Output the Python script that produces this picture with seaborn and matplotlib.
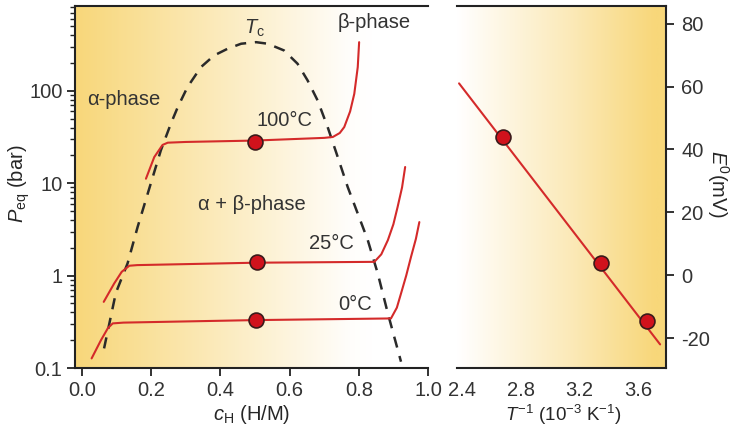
import numpy as np
import pandas as pd
import matplotlib
matplotlib.use("Agg")
import matplotlib.pyplot as plt
from matplotlib.colors import LinearSegmentedColormap
from matplotlib.ticker import LogLocator, NullFormatter, FixedLocator, FixedFormatter
import seaborn as sns

sns.set_theme(style="ticks")
plt.rcParams['font.family'] = ['Liberation Sans', 'DejaVu Sans']
plt.rcParams['mathtext.fontset'] = 'custom'
plt.rcParams['mathtext.rm'] = 'Liberation Sans'
plt.rcParams['mathtext.it'] = 'Liberation Sans:italic'
plt.rcParams['text.color'] = '#333333'
plt.rcParams['xtick.color'] = '#222222'
plt.rcParams['ytick.color'] = '#222222'
plt.rcParams['xtick.labelcolor'] = '#333333'
plt.rcParams['ytick.labelcolor'] = '#333333'

# ---------------- data ----------------
# coexistence dome (dashed)
dome_x = [0.064, 0.098, 0.132, 0.161, 0.19, 0.228, 0.257, 0.277, 0.305, 0.344, 0.382,
          0.421, 0.46, 0.503, 0.537, 0.584, 0.623, 0.652, 0.681, 0.71, 0.739,
          0.768, 0.797, 0.826, 0.855, 0.884, 0.922]
dome_p = [0.163, 0.65, 1.36, 3.37, 7.7, 22.7, 44.2, 66.8, 110, 181, 242,
          286, 324, 337, 324, 274, 197, 130, 78.9, 40.6, 19.3,
          9.1, 4.7, 2.42, 1.05, 0.39, 0.117]

# isotherms
iso100_x = [0.185, 0.209, 0.233, 0.248, 0.30, 0.50, 0.70, 0.725, 0.745, 0.758, 0.775, 0.787, 0.797, 0.801]
iso100_p = [11.2, 19.2, 26.0, 27.5, 28.0, 29.0, 31.0, 31.7, 35.0, 40.6, 60.0, 93.0, 181, 337]
iso25_x = [0.063, 0.093, 0.115, 0.137, 0.16, 0.50, 0.845, 0.865, 0.884, 0.90, 0.912, 0.925, 0.934]
iso25_p = [0.52, 0.82, 1.1, 1.28, 1.30, 1.38, 1.41, 1.7, 2.42, 3.6, 5.5, 9.0, 15.0]
iso0_x = [0.028, 0.055, 0.075, 0.089, 0.12, 0.50, 0.893, 0.91, 0.922, 0.937, 0.951, 0.965, 0.975]
iso0_p = [0.127, 0.20, 0.27, 0.304, 0.31, 0.33, 0.344, 0.45, 0.64, 1.0, 1.6, 2.5, 3.8]

# plateau points
plat_x = [0.50, 0.505, 0.504]
plat_p = [28.0, 1.41, 0.33]

# right panel: E0 vs 1/T
invT = [2.68, 3.35, 3.66]
E0 = [44.0, 4.0, -14.5]
fit_x = [2.38, 3.75]
fit_E = [61.0, -22.0]

left_xticks = [0.0, 0.2, 0.4, 0.6, 0.8, 1.0]
left_yticks = [0.1, 1, 10, 100]
left_yticklabels = ["0.1", "1", "10", "100"]
right_xticks = [2.4, 2.8, 3.2, 3.6]
right_yticks = [-20, 0, 20, 40, 60, 80]

FS = 14.5

# ---------------- figure ----------------
W, H = 735, 428
fig = plt.figure(figsize=(W / 100, H / 100), dpi=100)
fig.patch.set_facecolor('white')

axL = fig.add_axes([75 / W, 1 - 368 / H, 353 / W, 362 / H])
axR = fig.add_axes([457 / W, 1 - 368 / H, 209 / W, 362 / H])

gold = (248 / 255, 215 / 255, 122 / 255)
cream = (0.985, 0.915, 0.72)
cmapL = LinearSegmentedColormap.from_list('gl', [(0, gold), (0.38, cream), (0.78, (1, 0.995, 0.985)), (0.84, (1, 1, 1)), (1, (1, 1, 1))])
cmapR = LinearSegmentedColormap.from_list('gr', [(0, (1, 1, 1)), (0.06, (1, 0.99, 0.97)), (0.55, cream), (0.95, gold), (1, gold)])
grad = np.linspace(0, 1, 256).reshape(1, -1)
for ax, cm in ((axL, cmapL), (axR, cmapR)):
    ax.imshow(grad, aspect='auto', cmap=cm, extent=[0, 1, 0, 1], transform=ax.transAxes, zorder=0)

red = '#d42a2a'
lw_red = 1.5
dot = '#d0121c'
S = 115

# ---- left panel ----
axL.set_yscale('log')
sns.lineplot(x=dome_x, y=dome_p, ax=axL, sort=False, estimator=None, color='#2a2a2a',
             lw=1.8, linestyle=(0, (4.5, 3.5)), zorder=2)
for xs, ps in ((iso100_x, iso100_p), (iso25_x, iso25_p), (iso0_x, iso0_p)):
    sns.lineplot(x=xs, y=ps, ax=axL, sort=False, estimator=None, color=red, lw=lw_red, zorder=3)
sns.scatterplot(x=plat_x, y=plat_p, ax=axL, s=S, color=dot, edgecolor='#3a1a1a',
                linewidth=1.2, zorder=4)

axL.set_xlim(-0.02, 1.0)
axL.set_ylim(0.1, 830)
axL.yaxis.set_major_locator(FixedLocator(left_yticks))
axL.yaxis.set_major_formatter(FixedFormatter(left_yticklabels))
axL.yaxis.set_minor_locator(LogLocator(base=10, subs=np.arange(2, 10)))
axL.yaxis.set_minor_formatter(NullFormatter())
axL.set_xticks(left_xticks)
axL.set_xticklabels([f"{v:.1f}" for v in left_xticks])
axL.tick_params(axis='both', which='major', labelsize=FS, length=6, width=1.3, direction='out', pad=3)
axL.tick_params(axis='y', which='minor', length=3.5, width=1.0, direction='out')
for s in ('left', 'bottom', 'top'):
    axL.spines[s].set_visible(True)
    axL.spines[s].set_linewidth(1.5)
    axL.spines[s].set_color('#222222')
axL.spines['right'].set_visible(False)
axL.set_xlabel(r"$c_\mathrm{H}$ (H/M)", fontsize=FS)
axL.set_ylabel(r"$P_\mathrm{eq}$ (bar)", fontsize=FS)
axL.xaxis.set_label_coords(0.50, -0.097)
axL.yaxis.set_label_coords(-0.122, 0.51)

tk = dict(fontsize=FS, ha='center', va='center', zorder=5)
axL.text(0.50, 480, r"$T_\mathrm{c}$", **tk)
axL.text(0.845, 550, "β-phase", **tk)
axL.text(0.12, 80, "α-phase", **tk)
axL.text(0.585, 48, "100°C", **tk)
axL.text(0.49, 5.9, "α + β-phase", **tk)
axL.text(0.72, 2.25, "25°C", **tk)
axL.text(0.79, 0.49, "0°C", **tk)

# ---- right panel ----
sns.lineplot(x=fit_x, y=fit_E, ax=axR, sort=False, estimator=None, color=red, lw=lw_red, zorder=3)
sns.scatterplot(x=invT, y=E0, ax=axR, s=S, color=dot, edgecolor='#3a1a1a',
                linewidth=1.2, zorder=4)
axR.set_xlim(2.366, 3.79)
axR.set_ylim(-29.5, 85.6)
axR.set_xticks(right_xticks)
axR.set_xticklabels([f"{v:.1f}" for v in right_xticks])
axR.set_yticks(right_yticks)
axR.set_yticklabels([str(v) for v in right_yticks])
axR.yaxis.tick_right()
axR.yaxis.set_label_position('right')
axR.tick_params(axis='y', labelsize=FS, length=6, width=1.3, direction='out', pad=5)
axR.tick_params(axis='x', labelsize=FS, length=0, pad=9)
for s in ('right', 'bottom', 'top'):
    axR.spines[s].set_visible(True)
    axR.spines[s].set_linewidth(1.5)
    axR.spines[s].set_color('#222222')
axR.spines['left'].set_visible(False)
axR.set_xlabel(r"$T^{\mathrm{-1}}$ (10$^{\mathrm{-3}}$ K$^{\mathrm{-1}}$)", fontsize=13.5)
axR.xaxis.set_label_coords(0.51, -0.097)
axR.set_ylabel(r"$E^{\mathrm{0}}$(mV)", fontsize=FS, rotation=270, va='center')
axR.yaxis.set_label_coords(1.25, 0.51)

for ax in (axL, axR):
    ax.grid(False)
    ax.set_facecolor('white')

fig.savefig("out.png", dpi=100)
